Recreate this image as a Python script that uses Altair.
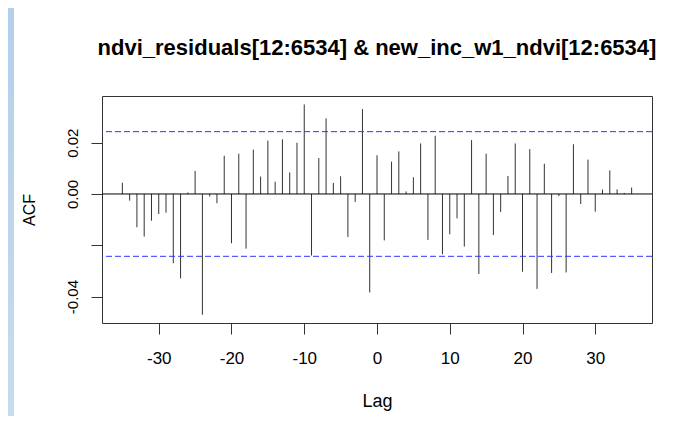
import altair as alt
import pandas as pd

lags = [-35, -34, -33, -32, -31, -30, -29, -28, -27, -26, -25, -24, -23, -22, -21, -20,
        -19, -18, -17, -16, -15, -14, -13, -12, -11, -10, -9, -8, -7, -6, -5, -4, -3, -2, -1,
        0, 1, 2, 3, 4, 5, 6, 7, 8, 9, 10, 11, 12, 13, 14, 15, 16, 17, 18, 19, 20,
        21, 22, 23, 24, 25, 26, 27, 28, 29, 30, 31, 32, 33, 34, 35]
acf = [0.0044, -0.0026, -0.0130, -0.0166, -0.0104, -0.0078, -0.0073, -0.0270, -0.0329, 0.0006,
       0.0090, -0.0471, -0.0010, -0.0036, 0.0149, -0.0192, 0.0157, -0.0213, 0.0173, 0.0068,
       0.0208, 0.0048, 0.0213, 0.0084, 0.0200, 0.0349, -0.0240, 0.0140, 0.0295, 0.0043,
       0.0069, -0.0168, -0.0031, 0.0331, -0.0384,
       0.0151, -0.0181, 0.0126, 0.0166, 0.0010, 0.0065, 0.0197, -0.0179, 0.0227, -0.0235,
       -0.0157, -0.0095, -0.0205, 0.0210, -0.0312, 0.0157, -0.0160, -0.0070, 0.0070, 0.0197,
       -0.0303, 0.0175, -0.0370, 0.0118, -0.0308, -0.0008, -0.0306, 0.0194, -0.0039, 0.0134,
       -0.0069, 0.0017, 0.0092, 0.0018, 0.0004, 0.0025]
ci_levels = [0.0243, -0.0243]
zero_level = [0.0]
x_ticks = [-30, -20, -10, 0, 10, 20, 30]
y_ticks = [-0.04, -0.02, 0.0, 0.02]
title_text = "ndvi_residuals[12:6534] & new_inc_w1_ndvi[12:6534]"
x_title = "Lag"
y_title = "ACF"

FONT = "Liberation Sans"

df = pd.DataFrame({"lag": lags, "acf": acf})
ci_df = pd.DataFrame({"acf": ci_levels})
zero_df = pd.DataFrame({"acf": zero_level})
one_df = pd.DataFrame({"a": [0]})

xscale = alt.Scale(domain=[-37.8, 37.8], nice=False, zero=False)
yscale = alt.Scale(domain=[-0.0503, 0.0382], nice=False, zero=False)

x_axis = alt.Axis(
    values=x_ticks, labelExpr="'' + datum.value", title=x_title,
    grid=False, domain=False, tickSize=11, tickColor="#333333", tickWidth=1,
    labelFont=FONT, labelFontSize=17, labelColor="#000000",
    labelBaseline="alphabetic", labelPadding=29, labelOverlap=False, labelFlush=False,
    titleFont=FONT, titleFontSize=18, titleFontWeight="normal", titleColor="#000000",
    titleX=275, titleY=83, titleBaseline="alphabetic", titleAlign="center",
)
y_axis = alt.Axis(
    values=y_ticks,
    labelExpr="(datum.value > -0.03 && datum.value < -0.01) ? '' : (datum.value < 0 ? '-' + format(-datum.value, '.2f') : format(datum.value, '.2f'))",
    title=y_title, grid=False, domain=False, tickSize=11, tickColor="#333333", tickWidth=1,
    labelFont=FONT, labelFontSize=15, labelColor="#000000", labelAngle=-90,
    labelAlign="center", labelBaseline="alphabetic", labelPadding=14, labelOverlap=False,
    titleFont=FONT, titleFontSize=16, titleFontWeight="normal", titleColor="#000000",
    titleAngle=-90, titleX=-68, titleY=113.5, titleBaseline="alphabetic", titleAlign="center",
)

strip = alt.Chart(one_df).mark_rect(
    color=alt.Gradient(gradient="linear", x1=0, y1=0, x2=0, y2=1,
                       stops=[alt.GradientStop(color="#b3cfea", offset=0),
                              alt.GradientStop(color="#c6dcf0", offset=1)])
).encode(x=alt.value(-94), x2=alt.value(-88), y=alt.value(-88), y2=alt.value(330))

title_mark = alt.Chart(one_df).mark_text(
    font=FONT, fontSize=22, fontWeight="bold", color="#000000",
    align="center", baseline="alphabetic",
).encode(x=alt.value(275), y=alt.value(-41), text=alt.value(title_text))

spikes = alt.Chart(df).mark_rule(color="#333333", strokeWidth=1).encode(
    x=alt.X("lag:Q", scale=xscale, axis=x_axis),
    y=alt.Y("acf:Q", scale=yscale, axis=y_axis),
    y2=alt.datum(0),
)

zero_line = alt.Chart(zero_df).mark_rule(color="#000000", strokeWidth=1).encode(
    y=alt.Y("acf:Q", scale=yscale, axis=y_axis)
)

ci_lines = alt.Chart(ci_df).mark_rule(color="#3333ff", strokeWidth=1, strokeDash=[6, 3]).encode(
    y=alt.Y("acf:Q", scale=yscale, axis=y_axis)
)

chart = alt.layer(strip, title_mark, spikes, zero_line, ci_lines).properties(
    width=550, height=227,
    autosize=alt.AutoSizeParams(type="none"),
    padding={"left": 94, "top": 88, "right": 17, "bottom": 93},
).configure(
    background="#ffffff",
    view=alt.ViewConfig(stroke="#333333", strokeWidth=1),
)

chart.save("out.html", embed_options={"renderer": "svg", "actions": False})
